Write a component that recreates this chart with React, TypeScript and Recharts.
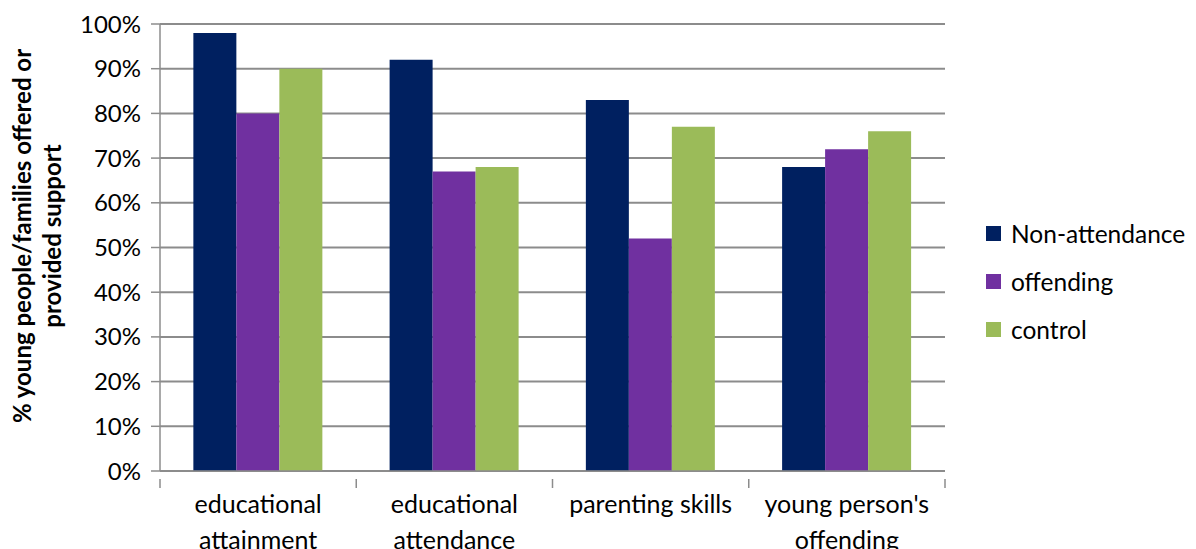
import { BarChart, Bar, XAxis, YAxis, CartesianGrid } from "recharts";

const categories = [
  "educational attainment",
  "educational attendance",
  "parenting skills",
  "young person's offending",
];
const nonAttendance = [98, 92, 83, 68];
const offending = [80, 67, 52, 72];
const control = [90, 68, 77, 76];
const yTicks = [0, 10, 20, 30, 40, 50, 60, 70, 80, 90, 100];

const seriesNames = ["Non-attendance", "offending", "control"];
const colors = ["#002060", "#7030A0", "#9BBB59"];

const data = categories.map((name, i) => ({
  name,
  nonAttendance: nonAttendance[i],
  offending: offending[i],
  control: control[i],
}));

const FONT = "Lato, 'Open Sans', sans-serif";
const W = 1196;
const H = 549;
const LEFT = 160;
const RIGHT = 251;
const AXIS = "#8c8c8c";
const bandWidth = (W - LEFT - RIGHT) / categories.length;

// wrap long category names into two lines
function wrap(label: string, max = 17): string[] {
  if (label.length <= max) return [label];
  const words = label.split(" ");
  const lines: string[] = [];
  let cur = "";
  for (const w of words) {
    if (cur && (cur + " " + w).length > max) {
      lines.push(cur);
      cur = w;
    } else {
      cur = cur ? cur + " " + w : w;
    }
  }
  if (cur) lines.push(cur);
  return lines;
}

const CategoryTick = (props: any) => {
  const { x, y, payload, index } = props;
  const lines = wrap(payload.value);
  const left = x - bandWidth / 2;
  return (
    <g>
      <line x1={left} y1={y} x2={left} y2={y + 9} stroke={AXIS} strokeWidth={1.5} />
      {index === categories.length - 1 && (
        <line x1={left + bandWidth} y1={y} x2={left + bandWidth} y2={y + 9} stroke={AXIS} strokeWidth={1.5} />
      )}
      <text x={x} y={y + 34} textAnchor="middle" fontSize={25} fontFamily={FONT} fill="#000">
        {lines.map((l, i) => (
          <tspan key={i} x={x} dy={i === 0 ? 0 : 36}>
            {l}
          </tspan>
        ))}
      </text>
    </g>
  );
};

const YLabel = () => (
  <text
    transform="translate(31, 236) rotate(-90)"
    textAnchor="middle"
    fontSize={24}
    fontWeight="bold"
    fontFamily={FONT}
    fill="#000"
  >
    <tspan x={0} dy={0}>% young people/families offered or</tspan>
    <tspan x={0} dy={30}>provided support</tspan>
  </text>
);

export default function App() {
  return (
    <div style={{ position: "absolute", left: 0, top: 0, width: W, height: H, background: "#fff" }}>
      <BarChart
        width={W}
        height={H}
        data={data}
        margin={{ top: 24, right: RIGHT, left: 0, bottom: 0 }}
        barCategoryGap="17%"
        barGap={0}
      >
        <CartesianGrid vertical={false} stroke={AXIS} strokeWidth={2} />
        <XAxis
          dataKey="name"
          height={78}
          interval={0}
          tickLine={false}
          axisLine={{ stroke: AXIS, strokeWidth: 1.5 }}
          tick={<CategoryTick />}
        />
        <YAxis
          width={LEFT}
          domain={[0, 100]}
          ticks={yTicks}
          interval={0}
          tickFormatter={(v) => `${v}%`}
          tickSize={9}
          tickMargin={10}
          tickLine={{ stroke: AXIS, strokeWidth: 1.5 }}
          axisLine={{ stroke: AXIS, strokeWidth: 1.5 }}
          tick={{ fontSize: 24, fontFamily: FONT, fill: "#000" }}
          label={<YLabel />}
        />
        <Bar dataKey="nonAttendance" name={seriesNames[0]} fill={colors[0]} isAnimationActive={false} />
        <Bar dataKey="offending" name={seriesNames[1]} fill={colors[1]} isAnimationActive={false} />
        <Bar dataKey="control" name={seriesNames[2]} fill={colors[2]} isAnimationActive={false} />
      </BarChart>
      <div style={{ position: "absolute", left: 986, top: 209, fontFamily: FONT, fontSize: 24.5 }}>
        {seriesNames.map((n, i) => (
          <div key={n} style={{ display: "flex", alignItems: "center", height: 48 }}>
            <span style={{ width: 15, height: 15, background: colors[i], marginRight: 10 }} />
            <span>{n}</span>
          </div>
        ))}
      </div>
    </div>
  );
}
